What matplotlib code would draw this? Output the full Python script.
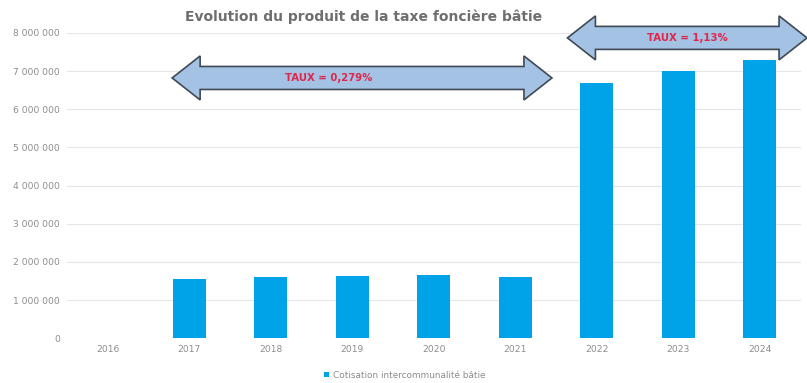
import matplotlib
matplotlib.use('agg')
import matplotlib.pyplot as plt
from matplotlib.patches import Polygon
from matplotlib.transforms import IdentityTransform
from matplotlib.ticker import FuncFormatter

# produit de la taxe foncière bâtie, en euros
annees = ['2016', '2017', '2018', '2019', '2020', '2021', '2022', '2023', '2024']
produit = [0, 1550000, 1600000, 1630000, 1650000, 1600000, 6700000, 7000000, 7300000]
taux_avant = 'TAUX = 0,279%'
taux_apres = 'TAUX = 1,13%'
serie = 'Cotisation intercommunalité bâtie'

bleu = '#00A3E8'
gris = '#8C8C8C'

fig = plt.figure(figsize=(8.07, 3.83), dpi=100)
ax = fig.add_axes([0.083, 0.117, 0.909, 0.797])

x = range(len(annees))
ax.bar(x, produit, width=0.41, color=bleu, label=serie, zorder=2)

ax.set_xlim(-0.5, len(annees) - 0.5)
ax.set_ylim(0, 8000000)
ax.set_yticks(range(0, 8000001, 1000000))
ax.yaxis.set_major_formatter(FuncFormatter(lambda v, p: '{:,.0f}'.format(v).replace(',', ' ')))
ax.set_xticks(list(x))
ax.set_xticklabels(annees)
ax.tick_params(axis='both', length=0, labelsize=6.6, labelcolor=gris, pad=5)
ax.grid(axis='y', color='#E6E6E6', linewidth=0.8, zorder=0)
for s in ax.spines.values():
    s.set_visible(False)

fig.text(0.45, 0.955, 'Evolution du produit de la taxe foncière bâtie',
         ha='center', va='center', fontsize=10, fontweight='bold', color='#6E6E6E')

ax.legend(loc='upper center', bbox_to_anchor=(0.46, -0.08), frameon=False,
          fontsize=6.4, labelcolor=gris, handlelength=0.6, handleheight=0.6,
          handletextpad=0.4)

# flèches double sens sur les deux périodes de taux (tailles en pixels)
def fleche(x0, x1, y, texte, xt, tete=28, demi_tige=11.5, demi_tete=22):
    (px0, py), (px1, _) = ax.transData.transform([(x0, y), (x1, y)])
    pts = [(px0, py),
           (px0 + tete, py + demi_tete), (px0 + tete, py + demi_tige),
           (px1 - tete, py + demi_tige), (px1 - tete, py + demi_tete),
           (px1, py),
           (px1 - tete, py - demi_tete), (px1 - tete, py - demi_tige),
           (px0 + tete, py - demi_tige), (px0 + tete, py - demi_tete)]
    ax.add_patch(Polygon(pts, closed=True, transform=IdentityTransform(),
                         facecolor='#A4C2E4', edgecolor='#404A55', linewidth=1.2,
                         clip_on=False, zorder=5))
    ax.text(xt, y, texte, ha='center', va='center', fontsize=7.3,
            fontweight='bold', color='#E0264B', zorder=6, clip_on=False)

fleche(0.79, 5.45, 6820000, taux_avant, 2.71)
fleche(5.64, 8.58, 7870000, taux_apres, 7.11)

fig.savefig('out.png', dpi=100)
